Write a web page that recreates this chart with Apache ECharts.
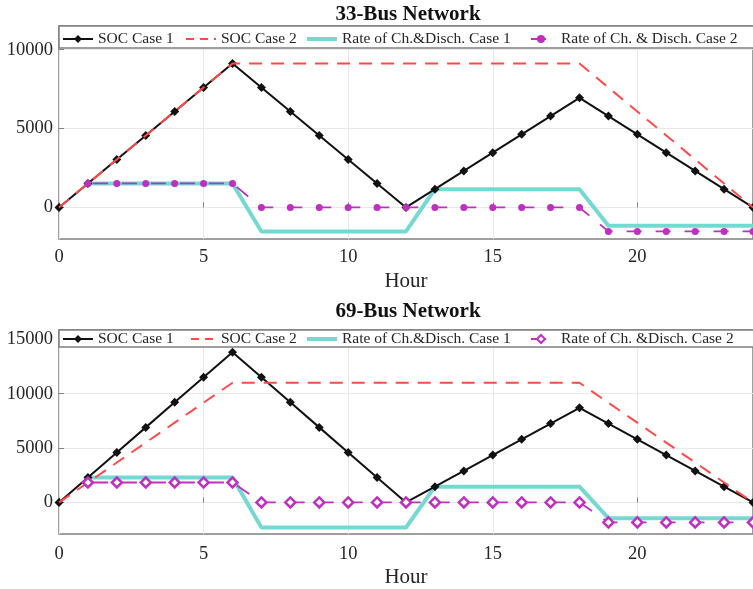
<!DOCTYPE html>
<html><head><meta charset="utf-8">
<script src="https://cdn.jsdelivr.net/npm/echarts@6/dist/echarts.min.js"></script>
<style>html,body{margin:0;padding:0;background:#fff}#c{width:753px;height:589px}</style>
</head><body><div id="c"></div>
<script>
// ---------- data ----------
const hours = [0,1,2,3,4,5,6,7,8,9,10,11,12,13,14,15,16,17,18,19,20,21,22,23,24];
const rateHours = [1,2,3,4,5,6,7,8,9,10,11,12,13,14,15,16,17,18,19,20,21,22,23,24];

// 33-Bus Network
const soc1_33 = [0,1520,3040,4560,6080,7600,9120,7600,6080,4560,3040,1520,0,1158,2316,3474,4632,5790,6948,5790,4632,3474,2316,1158,0];
const soc2_33 = [0,1520,3040,4560,6080,7600,9120,9120,9120,9120,9120,9120,9120,9120,9120,9120,9120,9120,9120,7600,6080,4560,3040,1520,0];
const rate1_33 = [1520,1520,1520,1520,1520,1520,-1520,-1520,-1520,-1520,-1520,-1520,1158,1158,1158,1158,1158,1158,-1158,-1158,-1158,-1158,-1158,-1158];
const rate2_33 = [1520,1520,1520,1520,1520,1520,0,0,0,0,0,0,0,0,0,0,0,0,-1520,-1520,-1520,-1520,-1520,-1520];

// 69-Bus Network
const soc1_69 = [0,2300,4600,6900,9200,11500,13800,11500,9200,6900,4600,2300,0,1450,2900,4350,5800,7250,8700,7250,5800,4350,2900,1450,0];
const soc2_69 = [0,1833,3667,5500,7333,9167,11000,11000,11000,11000,11000,11000,11000,11000,11000,11000,11000,11000,11000,9167,7333,5500,3667,1833,0];
const rate1_69 = [2300,2300,2300,2300,2300,2300,-2300,-2300,-2300,-2300,-2300,-2300,1450,1450,1450,1450,1450,1450,-1450,-1450,-1450,-1450,-1450,-1450];
const rate2_69 = [1833,1833,1833,1833,1833,1833,0,0,0,0,0,0,0,0,0,0,0,0,-1833,-1833,-1833,-1833,-1833,-1833];

const xTicks = [0,5,10,15,20];
const yTicks33 = [0,5000,10000];
const yTicks69 = [0,5000,10000,15000];

const titles = ['33-Bus Network','69-Bus Network'];
const xName = 'Hour';
const names33 = ['SOC Case 1','SOC Case 2','Rate of Ch.&Disch. Case 1','Rate of Ch. & Disch. Case 2'];
const names69 = ['SOC Case 1','SOC Case 2','Rate of Ch.&Disch. Case 1','Rate of Ch. &Disch. Case 2'];

// ---------- styling / layout ----------
const FONT = 'Liberation Serif';
const TXT = '#262626';
const BORDER = '#808080';
const GRIDC = '#e8e8e8';
const C_BLACK = '#111111', C_RED = '#ff4a4a', C_CYAN = '#74d9d1', C_MAG = '#c030c0';

const layout = [
  {top: 26, height: 213, ymin: -2000, ymax: 11500, ticks: yTicks33, titleTop: 4, legTop: 31, boxTop: 26, boxH: 22, nameGap: 32, labMargin: 9},
  {top: 330, height: 206, ymin: -2900, ymax: 15850, ticks: yTicks69, titleTop: 301, legTop: 331, boxTop: 330, boxH: 17, nameGap: 33, labMargin: 11}
];
const legLefts = [62, 185, 305, 525];

function pairs(xs, ys){ return xs.map((x,i)=>[x, ys[i]]); }

const grids = [], xAxes = [], yAxes = [], series = [], legends = [], titleArr = [], graphics = [];
const datasets = [
  {names: names33, soc1: soc1_33, soc2: soc2_33, r1: rate1_33, r2: rate2_33, magSym: 'circle', magSize: 7, magFill: C_MAG},
  {names: names69, soc1: soc1_69, soc2: soc2_69, r1: rate1_69, r2: rate2_69, magSym: 'diamond', magSize: 10, magFill: '#ffffff'}
];

layout.forEach((L, k) => {
  const D = datasets[k];
  grids.push({left: 59, right: -5, top: L.top, height: L.height, show: true, borderColor: BORDER, borderWidth: 1.5, backgroundColor: 'transparent'});
  xAxes.push({
    type: 'value', gridIndex: k, min: 0, max: 24,
    name: xName, nameLocation: 'middle', nameGap: L.nameGap,
    nameTextStyle: {fontFamily: FONT, fontSize: 21, color: TXT},
    axisLine: {show: false},
    axisTick: {show: true, inside: true, length: 5, customValues: xTicks, lineStyle: {color: BORDER}},
    axisLabel: {customValues: xTicks, fontFamily: FONT, fontSize: 18.5, color: TXT, margin: L.labMargin},
    splitLine: {show: true, lineStyle: {color: GRIDC, width: 1}}
  });
  yAxes.push({
    type: 'value', gridIndex: k, min: L.ymin, max: L.ymax,
    axisLine: {show: false},
    axisTick: {show: true, inside: true, length: 5, customValues: L.ticks, lineStyle: {color: BORDER}},
    axisLabel: {customValues: L.ticks, formatter: v => String(v), fontFamily: FONT, fontSize: 18.5, color: TXT, margin: 6},
    splitLine: {show: true, lineStyle: {color: GRIDC, width: 1}}
  });
  titleArr.push({text: titles[k], left: 408, textAlign: 'center', top: L.titleTop, padding: 0,
    textStyle: {fontFamily: FONT, fontSize: 21, fontWeight: 'bold', color: '#111'}});

  series.push({name: D.names[0], type: 'line', xAxisIndex: k, yAxisIndex: k, data: pairs(hours, D.soc1),
    symbol: 'diamond', symbolSize: 9, showAllSymbol: true, lineStyle: {color: C_BLACK, width: 2}, itemStyle: {color: C_BLACK}, z: 3});
  series.push({name: D.names[1], type: 'line', xAxisIndex: k, yAxisIndex: k, data: pairs(hours, D.soc2),
    symbol: 'none', lineStyle: {color: C_RED, width: 2, type: [13, 9]}, itemStyle: {color: C_RED}, z: 4});
  series.push({name: D.names[2], type: 'line', xAxisIndex: k, yAxisIndex: k, data: pairs(rateHours, D.r1),
    symbol: 'none', lineStyle: {color: C_CYAN, width: 4}, itemStyle: {color: C_CYAN}, z: 2});
  series.push({name: D.names[3], type: 'line', xAxisIndex: k, yAxisIndex: k, data: pairs(rateHours, D.r2),
    symbol: D.magSym, symbolSize: D.magSize, showAllSymbol: true,
    lineStyle: {color: C_MAG, width: 1.8, type: [15, 14], dashOffset: -5},
    itemStyle: {color: D.magFill, borderColor: C_MAG, borderWidth: k === 1 ? 2.5 : 0}, z: 5});

  D.names.forEach((nm, j) => {
    let item = {name: nm};
    if (j === 1) item = {name: nm, itemStyle: {color: 'rgba(0,0,0,0)', borderWidth: 0, opacity: 0}, lineStyle: {color: C_RED, width: 2, type: [8, 6]}};
    if (j === 2) item = {name: nm, itemStyle: {color: 'rgba(0,0,0,0)', borderWidth: 0, opacity: 0}, lineStyle: {color: C_CYAN, width: 4}};
    legends.push({data: [item], left: legLefts[j], top: L.legTop, padding: 0, itemWidth: 30, itemHeight: 10,
      selectedMode: false, textStyle: {fontFamily: FONT, fontSize: 15.5, color: TXT}});
  });
  graphics.push({type: 'rect', shape: {x: 59, y: L.boxTop, width: 700, height: L.boxH},
    style: {fill: '#fff', stroke: BORDER, lineWidth: 1.5}, z: 1, zlevel: 0});
});

const chart = echarts.init(document.getElementById('c'), null, {renderer: 'canvas'});
chart.setOption({
  animation: false,
  backgroundColor: '#ffffff',
  title: titleArr,
  grid: grids,
  xAxis: xAxes,
  yAxis: yAxes,
  legend: legends,
  graphic: graphics,
  series: series
});
</script></body></html>
